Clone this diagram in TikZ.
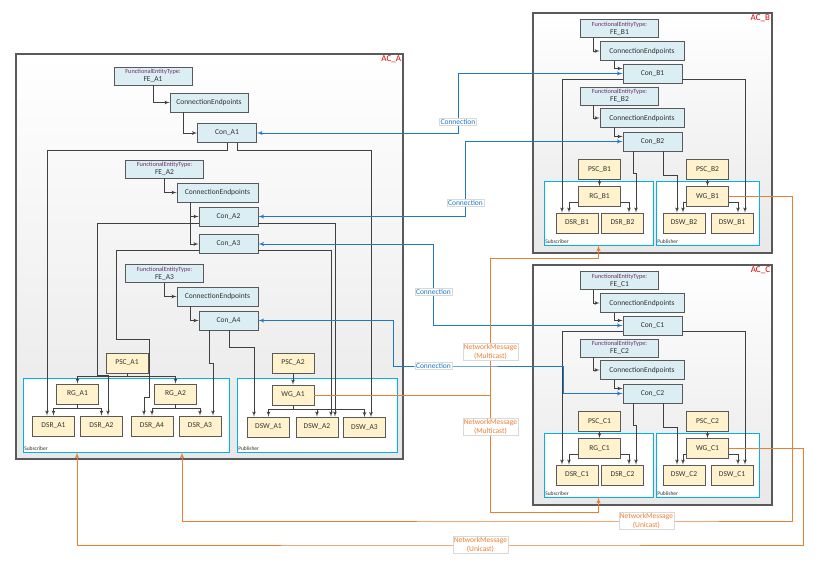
\documentclass[tikz,border=0pt]{standalone}
\usepackage{fontspec}
\setmainfont{Carlito}
\usetikzlibrary{arrows}

\definecolor{boxblue}{RGB}{218,238,243}
\definecolor{boxyel}{RGB}{255,242,204}
\definecolor{boxline}{RGB}{89,89,89}
\definecolor{lnkcol}{RGB}{64,64,64}
\definecolor{txtcol}{RGB}{50,50,50}
\definecolor{grpcyan}{RGB}{0,176,240}
\definecolor{connblue}{RGB}{30,120,200}
\definecolor{msgorange}{RGB}{237,125,49}
\definecolor{acred}{RGB}{220,0,0}
\definecolor{fecol}{RGB}{112,48,100}
\definecolor{aclinecol}{RGB}{90,90,90}

\newcommand{\fetype}{{\fontsize{6.3}{6.5}\selectfont\color{fecol}FunctionalEntityType:}}

\begin{document}
\begin{tikzpicture}[x=1pt,y=-1pt]

\tikzset{acbox/.style = {draw=aclinecol, line width=1.5pt, top color=white, bottom color=black!9, inner sep=0pt}}
\tikzset{grp/.style = {draw=grpcyan, line width=0.9pt, fill=white, inner sep=0pt}}
\tikzset{bbox/.style = {draw=boxline, line width=0.9pt, fill=boxblue, text=txtcol, inner sep=0pt, minimum height=19pt, font=\fontsize{7.5}{8}\selectfont}}
\tikzset{fe/.style = {bbox, minimum width=78pt, minimum height=18pt, align=center}}
\tikzset{cep/.style = {bbox, minimum width=81pt}}
\tikzset{con/.style = {bbox, minimum width=59pt}}
\tikzset{ybox/.style = {bbox, fill=boxyel, minimum width=42pt, minimum height=20pt}}
\tikzset{lnk/.style = {->, > = latex', draw=lnkcol, line width=0.7pt}}
\tikzset{conn/.style = {<->, > = latex', draw=connblue, line width=0.9pt}}
\tikzset{msg/.style = {->, > = latex', draw=msgorange, line width=1pt}}
\tikzset{clbl/.style = {fill=white, draw=black!15, line width=0.3pt, text=connblue, inner sep=1pt, font=\fontsize{7.5}{8}\selectfont}}
\tikzset{mlbl/.style = {clbl, text=msgorange, align=center, font=\fontsize{7.5}{8.5}\selectfont}}
\tikzset{glbl/.style = {text=txtcol, inner sep=1.5pt, font=\fontsize{5.5}{6}\selectfont}}
\tikzset{aclbl/.style = {text=acred, inner sep=2.5pt, font=\fontsize{9}{9}\selectfont}}

\useasboundingbox (0,0) rectangle (819,568);

%containers
\node[acbox, minimum width=387pt, minimum height=405pt] (ACA) at (209.5,256.5) {};
\node[acbox, minimum width=239pt, minimum height=240pt] (ACB) at (652.5,133) {};
\node[acbox, minimum width=239pt, minimum height=240pt] (ACC) at (652.5,385) {};
\node[aclbl, anchor=north east] (lblA) at (ACA.north east) {AC\_A};
\node[aclbl, anchor=north east] (lblB) at (ACB.north east) {AC\_B};
\node[aclbl, anchor=north east] (lblC) at (ACC.north east) {AC\_C};

\node[grp, minimum width=206pt, minimum height=74pt] (SubA) at (126,415) {};
\node[grp, minimum width=160pt, minimum height=74pt] (PubA) at (317,415) {};
\node[grp, minimum width=109pt, minimum height=64pt] (SubB) at (598.5,213) {};
\node[grp, minimum width=103pt, minimum height=64pt] (PubB) at (707.5,213) {};
\node[grp, minimum width=109pt, minimum height=64pt] (SubC) at (598.5,465) {};
\node[grp, minimum width=103pt, minimum height=64pt] (PubC) at (707.5,465) {};
\node[glbl, anchor=south west] (lblSubA) at (SubA.south west) {Subscriber};
\node[glbl, anchor=south west] (lblPubA) at (PubA.south west) {Publisher};
\node[glbl, anchor=south west] (lblSubB) at (SubB.south west) {Subscriber};
\node[glbl, anchor=south west] (lblPubB) at (PubB.south west) {Publisher};
\node[glbl, anchor=south west] (lblSubC) at (SubC.south west) {Subscriber};
\node[glbl, anchor=south west] (lblPubC) at (PubC.south west) {Publisher};

%AC_A
\node[fe] (FEA1) at (153,76) {\fetype\\FE\_A1};
\node[cep, minimum width=78pt] (CEA1) at (209,102.5) {ConnectionEndpoints};
\node[con] (ConA1) at (227,133) {Con\_A1};
\node[fe] (FEA2) at (164.5,169) {\fetype\\FE\_A2};
\node[cep] (CEA2) at (217.5,192.5) {ConnectionEndpoints};
\node[con] (ConA2) at (228.5,216.5) {Con\_A2};
\node[con] (ConA3) at (228.5,244) {Con\_A3};
\node[fe] (FEA3) at (164.5,273.5) {\fetype\\FE\_A3};
\node[cep] (CEA3) at (217.5,296.5) {ConnectionEndpoints};
\node[con] (ConA4) at (228.5,320.5) {Con\_A4};
\node[ybox] (PSCA1) at (127,363) {PSC\_A1};
\node[ybox] (PSCA2) at (293,363) {PSC\_A2};
\node[ybox] (RGA1) at (77.5,394) {RG\_A1};
\node[ybox] (RGA2) at (175.5,394) {RG\_A2};
\node[ybox] (WGA1) at (293,395) {WG\_A1};
\node[ybox] (DSRA1) at (53.5,426) {DSR\_A1};
\node[ybox] (DSRA2) at (101.5,426) {DSR\_A2};
\node[ybox] (DSRA4) at (152,426) {DSR\_A4};
\node[ybox] (DSRA3) at (200,426) {DSR\_A3};
\node[ybox] (DSWA1) at (268.5,427) {DSW\_A1};
\node[ybox] (DSWA2) at (317,427) {DSW\_A2};
\node[ybox] (DSWA3) at (364.5,427.5) {DSW\_A3};

%AC_B
\node[fe] (FEB1) at (619.5,28.5) {\fetype\\FE\_B1};
\node[cep, minimum width=84pt] (CEB1) at (642,51) {ConnectionEndpoints};
\node[con] (ConB1) at (652.5,73.5) {Con\_B1};
\node[fe] (FEB2) at (619.5,96) {\fetype\\FE\_B2};
\node[cep, minimum width=84pt] (CEB2) at (642,118) {ConnectionEndpoints};
\node[con] (ConB2) at (652.5,141.5) {Con\_B2};
\node[ybox] (PSCB1) at (599.5,169.5) {PSC\_B1};
\node[ybox] (PSCB2) at (707.5,169.5) {PSC\_B2};
\node[ybox] (RGB1) at (599.5,196.5) {RG\_B1};
\node[ybox] (WGB1) at (707.5,196.5) {WG\_B1};
\node[ybox] (DSRB1) at (577,223) {DSR\_B1};
\node[ybox] (DSRB2) at (622.5,223) {DSR\_B2};
\node[ybox] (DSWB2) at (684,223) {DSW\_B2};
\node[ybox] (DSWB1) at (732,223) {DSW\_B1};

%AC_C
\node[fe] (FEC1) at (619.5,280.5) {\fetype\\FE\_C1};
\node[cep, minimum width=84pt] (CEC1) at (642,303) {ConnectionEndpoints};
\node[con] (ConC1) at (652.5,325.5) {Con\_C1};
\node[fe] (FEC2) at (619.5,348) {\fetype\\FE\_C2};
\node[cep, minimum width=84pt] (CEC2) at (642,370) {ConnectionEndpoints};
\node[con] (ConC2) at (652.5,393.5) {Con\_C2};
\node[ybox] (PSCC1) at (599.5,421.5) {PSC\_C1};
\node[ybox] (PSCC2) at (707.5,421.5) {PSC\_C2};
\node[ybox] (RGC1) at (599.5,448.5) {RG\_C1};
\node[ybox] (WGC1) at (707.5,448.5) {WG\_C1};
\node[ybox] (DSRC1) at (577,475) {DSR\_C1};
\node[ybox] (DSRC2) at (622.5,475) {DSR\_C2};
\node[ybox] (DSWC2) at (684,475) {DSW\_C2};
\node[ybox] (DSWC1) at (732,475) {DSW\_C1};

%edges AC_A
\draw[lnk] (FEA1.south) |- (CEA1.west);
\draw[lnk] ([xshift=-26pt]CEA1.south) |- (ConA1.west);
\draw[lnk] (ConA1.south) -- ++(0,7) -| ([xshift=-6.5pt]DSRA1.north);
\draw[lnk] ([xshift=10pt]ConA1.south) -- ++(0,7) -| ([xshift=6.5pt]DSWA3.north);
\draw[lnk] (FEA2.south) |- (CEA2.west);
\draw[lnk] ([xshift=-27.5pt]CEA2.south) |- (ConA2.west);
\draw[lnk] ([xshift=-27.5pt]CEA2.south) |- (ConA3.west);
\draw[lnk] ([yshift=-6.5pt]ConA2.west) -- ++(-101,0) -- ++(0,152) -| ([xshift=6.5pt]DSRA2.north);
\draw[lnk] ([yshift=-6.5pt]ConA2.east) -| ([xshift=18pt]DSWA2.north);
\draw[lnk] ([yshift=-6pt]ConA3.west) -- ++(-82,0) -- ++(0,89) -- ++(33,0) -- ++(0,58) -| ([xshift=-8pt]DSRA4.north);
\draw[lnk] ([yshift=-6pt]ConA3.east) -| ([xshift=14pt]DSWA2.north);
\draw[lnk] (FEA3.south) |- (CEA3.west);
\draw[lnk] ([xshift=-27.5pt]CEA3.south) |- (ConA4.west);
\draw[lnk] ([xshift=-19.5pt]ConA4.south) -- ++(0,33) -| ([xshift=13pt]DSRA3.north);
\draw[lnk] ([xshift=0.5pt]ConA4.south) -- ++(0,17) -| ([xshift=-14.5pt]DSWA1.north);
\draw[lnk] (PSCA1.south) -- ++(0,3) -| (RGA1.north);
\draw[lnk] (PSCA1.south) -- ++(0,3) -| (RGA2.north);
\draw[lnk] (RGA1.south) -- ++(0,4) -| (DSRA1.north);
\draw[lnk] (RGA1.south) -- ++(0,4) -| (DSRA2.north);
\draw[lnk] (RGA2.south) -- ++(0,4) -| (DSRA4.north);
\draw[lnk] (RGA2.south) -- ++(0,4) -| (DSRA3.north);
\draw[lnk] (PSCA2) -- (WGA1);
\draw[lnk] (WGA1.south) -- ++(0,4) -| (DSWA1.north);
\draw[lnk] (WGA1.south) -- ++(0,4) -| (DSWA2.north);
\draw[lnk] (WGA1.south) -- ++(0,4) -| (DSWA3.north);

%edges AC_B
\draw[lnk] ([xshift=-26.5pt]FEB1.south) |- (CEB1.west);
\draw[lnk] ([xshift=-28pt]CEB1.south) |- ([yshift=5pt]ConB1.west);
\draw[lnk] ([yshift=-5.5pt]ConB1.west) -| ([xshift=-15pt]DSRB1.north);
\draw[lnk] ([yshift=-5.5pt]ConB1.east) -| ([xshift=13pt]DSWB1.north);
\draw[lnk] ([xshift=-26.5pt]FEB2.south) |- (CEB2.west);
\draw[lnk] ([xshift=-28pt]CEB2.south) |- ([yshift=5pt]ConB2.west);
\draw[lnk] ([xshift=-19.5pt]ConB2.south) -- ++(0,22) -| ([xshift=13.5pt]DSRB2.north);
\draw[lnk] ([xshift=10.5pt]ConB2.south) -- ++(0,24) -| ([xshift=-7pt]DSWB2.north);
\draw[lnk] (PSCB1) -- (RGB1);
\draw[lnk] (PSCB2) -- (WGB1);
\draw[lnk] ([yshift=-5.5pt]RGB1.west) -| ([xshift=-8pt]DSRB1.north);
\draw[lnk] ([yshift=-5.5pt]RGB1.east) -| ([xshift=6.5pt]DSRB2.north);
\draw[lnk] ([yshift=-5.5pt]WGB1.west) -| ([xshift=-1pt]DSWB2.north);
\draw[lnk] ([yshift=-5.5pt]WGB1.east) -| ([xshift=6pt]DSWB1.north);

%edges AC_C
\draw[lnk] ([xshift=-26.5pt]FEC1.south) |- (CEC1.west);
\draw[lnk] ([xshift=-28pt]CEC1.south) |- ([yshift=5pt]ConC1.west);
\draw[lnk] ([yshift=-5.5pt]ConC1.west) -| ([xshift=-15pt]DSRC1.north);
\draw[lnk] ([yshift=-5.5pt]ConC1.east) -| ([xshift=13pt]DSWC1.north);
\draw[lnk] ([xshift=-26.5pt]FEC2.south) |- (CEC2.west);
\draw[lnk] ([xshift=-28pt]CEC2.south) |- ([yshift=5pt]ConC2.west);
\draw[lnk] ([xshift=-19.5pt]ConC2.south) -- ++(0,22) -| ([xshift=13.5pt]DSRC2.north);
\draw[lnk] ([xshift=10.5pt]ConC2.south) -- ++(0,24) -| ([xshift=-7pt]DSWC2.north);
\draw[lnk] (PSCC1) -- (RGC1);
\draw[lnk] (PSCC2) -- (WGC1);
\draw[lnk] ([yshift=-5.5pt]RGC1.west) -| ([xshift=-8pt]DSRC1.north);
\draw[lnk] ([yshift=-5.5pt]RGC1.east) -| ([xshift=6.5pt]DSRC2.north);
\draw[lnk] ([yshift=-5.5pt]WGC1.west) -| ([xshift=-1pt]DSWC2.north);
\draw[lnk] ([yshift=-5.5pt]WGC1.east) -| ([xshift=6pt]DSWC1.north);

%connections
\draw[conn] (ConA1.east) -- ++(201,0) -- ++(0,-11) node[clbl] {Connection} |- (ConB1.west);
\draw[conn] (ConA2.east) -- ++(207,0) -- ++(0,-13.5) node[clbl] {Connection} |- (ConB2.west);
\draw[conn] (ConA3.east) -- ++(175,0) -- ++(0,48) node[clbl] {Connection} |- (ConC1.west);
\draw[conn] (ConA4.east) -- ++(135,0) -- ++(0,45.5) -- ++(40,0) node[clbl] {Connection} -- ++(130,0) |- (ConC2.west);

%network messages
\draw[msg] (WGA1.east) -- ++(176,0) coordinate (mc) -- ++(0,-43) node[mlbl] {NetworkMessage\\(Multicast)} -- ++(0,-94) -| (SubB.south);
\draw[msg] (mc) -- ++(0,32) node[mlbl] {NetworkMessage\\(Multicast)} -- ++(0,85) -| (SubC.south);
\draw[msg] (WGB1.east) -- ++(63.5,0) -- ++(0,324.5) -- ++(-146,0) node[mlbl] {NetworkMessage\\(Unicast)} -| ([xshift=56pt]SubA.south);
\draw[msg] (WGC1.east) -- ++(74.5,0) -- ++(0,96.5) -- ++(-323,0) node[mlbl] {NetworkMessage\\(Unicast)} -| ([xshift=-49pt]SubA.south);

\end{tikzpicture}
\end{document}
